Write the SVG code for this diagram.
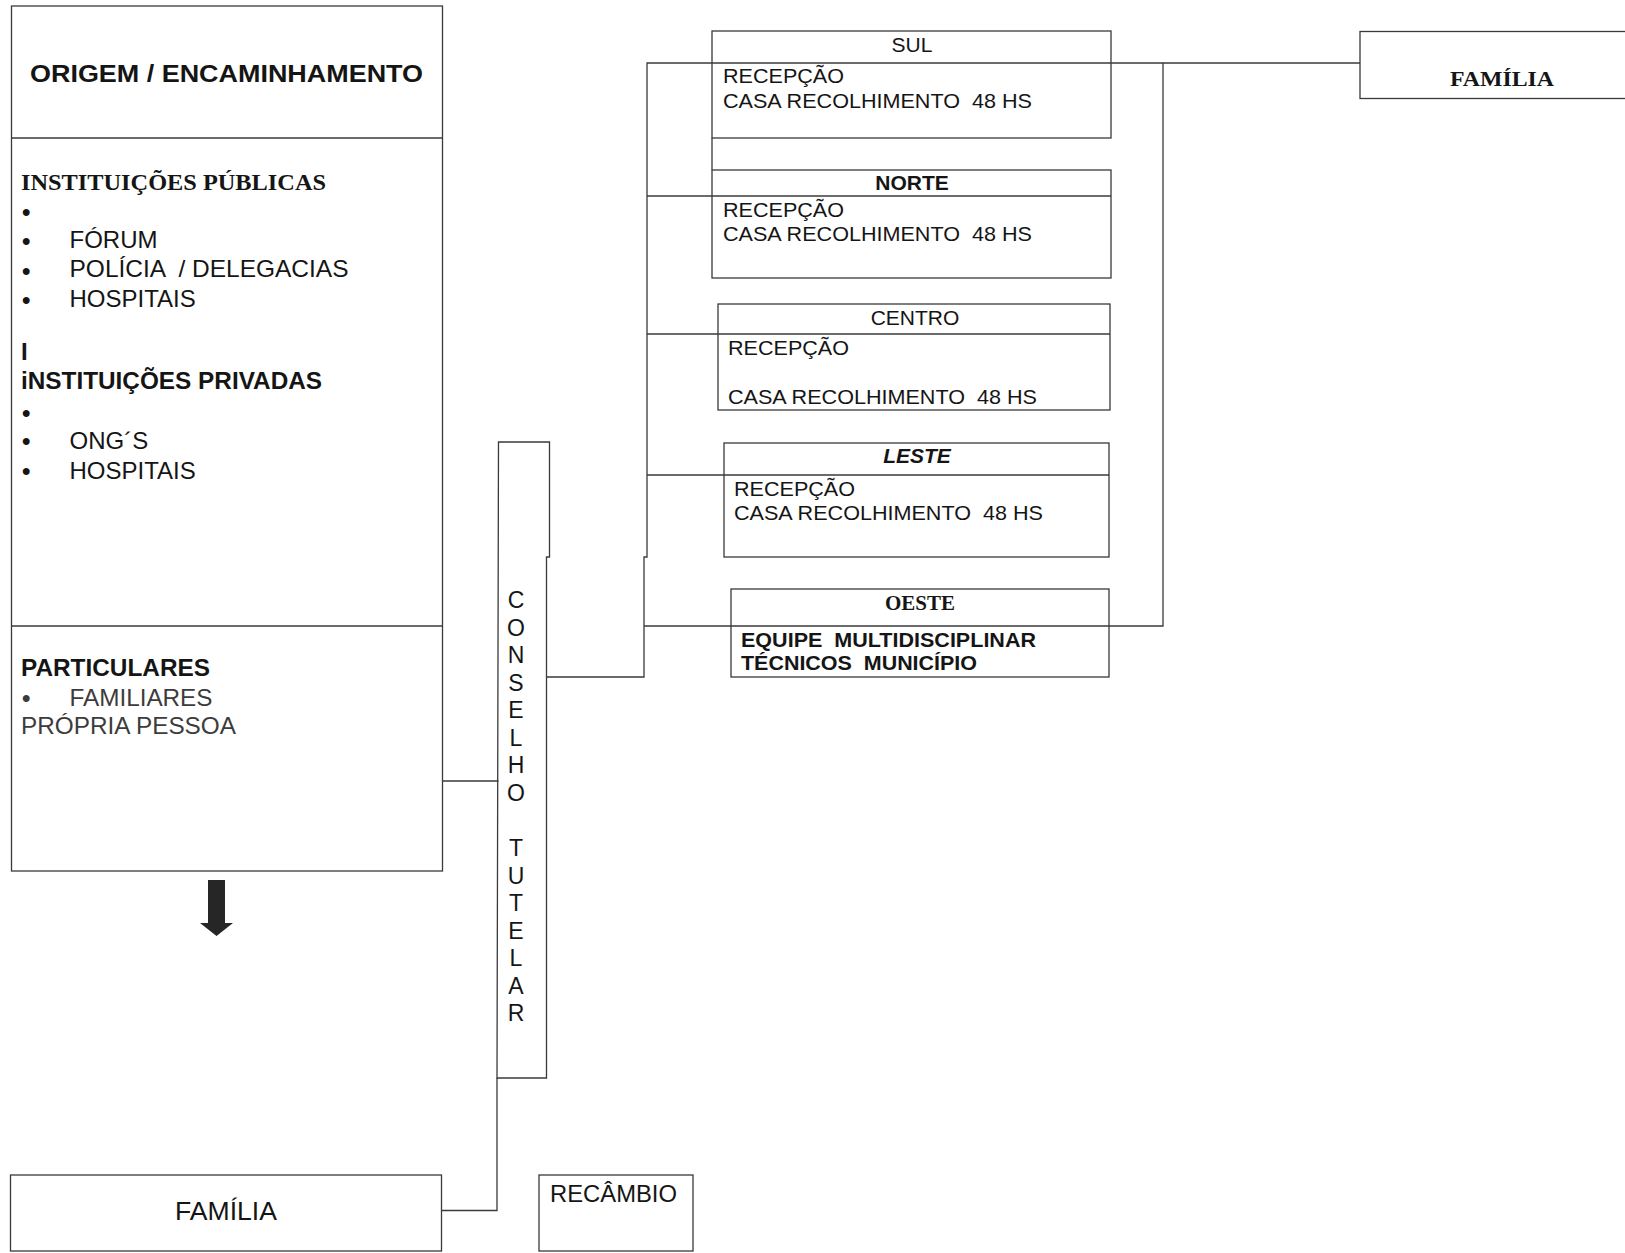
<svg xmlns="http://www.w3.org/2000/svg" width="1625" height="1253" viewBox="0 0 1625 1253">
<style>
.box{fill:none;stroke:#3a3a3a;stroke-width:1.3}
.ln{fill:none;stroke:#3a3a3a;stroke-width:1.3}
.s{font-family:"Liberation Sans",Arial,sans-serif;fill:#151515}
.b{font-weight:bold}
.r{font-family:"Liberation Serif","Times New Roman",serif;font-weight:bold;fill:#151515}
.l24{font-size:24px}
.m21{font-size:21px}
.c{text-anchor:middle}
.g{fill:#3c3c3c}
.bu{font-weight:bold}
</style>
<rect width="1625" height="1253" fill="#ffffff"/>
<g id="connectors">
<line class="ln" x1="442.5" y1="781" x2="498.5" y2="781"/>
<path class="ln" d="M497,1078 V1210.5 H441.5"/>
<path class="ln" d="M547,677 H644 V557 H647 V63 H1360"/>
<line class="ln" x1="647" y1="196" x2="1111" y2="196"/>
<line class="ln" x1="647" y1="334" x2="1110" y2="334"/>
<line class="ln" x1="647" y1="475" x2="1109" y2="475"/>
<path class="ln" d="M644,626 H1163 V63"/>
<line class="ln" x1="712" y1="138" x2="712" y2="170"/>
</g>
<g id="origem">
<rect class="box" x="11.5" y="6" width="431" height="865"/>
<line class="ln" x1="11.5" y1="138" x2="442.5" y2="138"/>
<line class="ln" x1="11.5" y1="626" x2="442.5" y2="626"/>
<text class="s b" x="30" y="82" font-size="24.5" textLength="393" lengthAdjust="spacingAndGlyphs">ORIGEM / ENCAMINHAMENTO</text>
<text class="r" x="21" y="190" font-size="23" textLength="305" lengthAdjust="spacingAndGlyphs">INSTITUIÇÕES PÚBLICAS</text>
<g class="s l24">
<text class="bu" x="22" y="220">•</text>
<text class="bu" x="22" y="249">•</text>
<text x="69.5" y="248">FÓRUM</text>
<text class="bu" x="22" y="278.5">•</text>
<text x="69.5" y="277" xml:space="preserve" textLength="279" lengthAdjust="spacingAndGlyphs">POLÍCIA  / DELEGACIAS</text>
<text class="bu" x="22" y="307.5">•</text>
<text x="69.5" y="307">HOSPITAIS</text>
<text class="b" x="21" y="360">I</text>
<text class="b" x="21" y="389" textLength="301" lengthAdjust="spacingAndGlyphs">iNSTITUIÇÕES PRIVADAS</text>
<text class="bu" x="22" y="421">•</text>
<text class="bu" x="22" y="449">•</text>
<text x="69.5" y="449">ONG´S</text>
<text class="bu" x="22" y="479">•</text>
<text x="69.5" y="479">HOSPITAIS</text>
<text class="b" x="21" y="676" textLength="189" lengthAdjust="spacingAndGlyphs">PARTICULARES</text>
<text class="g bu" x="22" y="706">•</text>
<text class="g" x="69.5" y="706" textLength="143" lengthAdjust="spacingAndGlyphs">FAMILIARES</text>
<text class="g" x="21" y="734" textLength="215" lengthAdjust="spacingAndGlyphs">PRÓPRIA PESSOA</text>
</g>
</g>
<g id="arrow">
<polygon points="208,880 225,880 225,923 233,923 216.5,936 200,923 208,923" fill="#262626"/>
</g>
<g id="conselho">
<path class="box" d="M498.5,442 H549.5 V557 H546.5 V1078 H497 Z"/>
<g class="s c" font-size="23">
<text x="516" y="608">C</text>
<text x="516" y="635.5">O</text>
<text x="516" y="663">N</text>
<text x="516" y="690.5">S</text>
<text x="516" y="718">E</text>
<text x="516" y="745.5">L</text>
<text x="516" y="773">H</text>
<text x="516" y="800.5">O</text>
<text x="516" y="856">T</text>
<text x="516" y="883.5">U</text>
<text x="516" y="911">T</text>
<text x="516" y="938.5">E</text>
<text x="516" y="966">L</text>
<text x="516" y="993.5">A</text>
<text x="516" y="1021">R</text>
</g>
</g>
<g id="sul">
<rect class="box" x="712" y="31" width="399" height="107"/>
<text class="s m21 c" x="912" y="51.5">SUL</text>
<text class="s m21" x="723" y="83" textLength="121" lengthAdjust="spacingAndGlyphs">RECEPÇÃO</text>
<text class="s m21" x="723" y="107.5" xml:space="preserve" textLength="309" lengthAdjust="spacingAndGlyphs">CASA RECOLHIMENTO  48 HS</text>
</g>
<g id="norte">
<rect class="box" x="712" y="170" width="399" height="108"/>
<text class="s m21 b c" x="912" y="190">NORTE</text>
<text class="s m21" x="723" y="216.5" textLength="121" lengthAdjust="spacingAndGlyphs">RECEPÇÃO</text>
<text class="s m21" x="723" y="241" xml:space="preserve" textLength="309" lengthAdjust="spacingAndGlyphs">CASA RECOLHIMENTO  48 HS</text>
</g>
<g id="centro">
<rect class="box" x="718" y="304" width="392" height="106"/>
<text class="s m21 c" x="915" y="325">CENTRO</text>
<text class="s m21" x="728" y="355" textLength="121" lengthAdjust="spacingAndGlyphs">RECEPÇÃO</text>
<text class="s m21" x="728" y="403.5" xml:space="preserve" textLength="309" lengthAdjust="spacingAndGlyphs">CASA RECOLHIMENTO  48 HS</text>
</g>
<g id="leste">
<rect class="box" x="724" y="443" width="385" height="114"/>
<text class="s m21 b c" x="917" y="463" font-style="italic">LESTE</text>
<text class="s m21" x="734" y="496" textLength="121" lengthAdjust="spacingAndGlyphs">RECEPÇÃO</text>
<text class="s m21" x="734" y="520" xml:space="preserve" textLength="309" lengthAdjust="spacingAndGlyphs">CASA RECOLHIMENTO  48 HS</text>
</g>
<g id="oeste">
<rect class="box" x="731" y="589" width="378" height="88"/>
<text class="r c" x="920" y="610" font-size="20" textLength="70" lengthAdjust="spacingAndGlyphs">OESTE</text>
<text class="s b" x="741" y="647" font-size="20.5" textLength="295" lengthAdjust="spacingAndGlyphs" xml:space="preserve">EQUIPE  MULTIDISCIPLINAR</text>
<text class="s b" x="741" y="670" font-size="20.5" textLength="236" lengthAdjust="spacingAndGlyphs" xml:space="preserve">TÉCNICOS  MUNICÍPIO</text>
</g>
<g id="familia-direita">
<rect class="box" x="1360" y="31.5" width="280" height="67"/>
<text class="r" x="1450" y="86" font-size="22" textLength="104" lengthAdjust="spacingAndGlyphs">FAMÍLIA</text>
</g>
<g id="familia">
<rect class="box" x="10.5" y="1175" width="431" height="76"/>
<text class="s" x="175" y="1220" font-size="25" textLength="102" lengthAdjust="spacingAndGlyphs">FAMÍLIA</text>
</g>
<g id="recambio">
<rect class="box" x="539" y="1175" width="154" height="76"/>
<text class="s" x="550" y="1202" font-size="23.5" textLength="127" lengthAdjust="spacingAndGlyphs">RECÂMBIO</text>
</g>
</svg>
